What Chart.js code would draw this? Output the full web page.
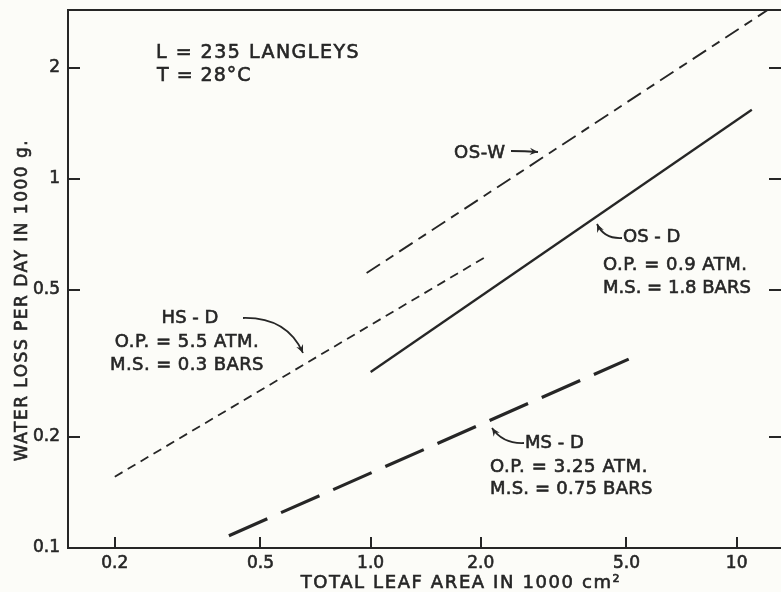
<!DOCTYPE html>
<html>
<head>
<meta charset="utf-8">
<script src="https://cdn.jsdelivr.net/npm/chart.js@4/dist/chart.umd.min.js"></script>
<style>
  html, body { margin: 0; padding: 0; overflow: hidden; background: #fcfcf8; }
  canvas { display: block; }
</style>
</head>
<body>
<canvas id="c" width="790" height="592"></canvas>
<script>
// Tick positions and labels on the two logarithmic axes
const xTicks = [0.2, 0.5, 1.0, 2.0, 5.0, 10];
const xTickLabels = ['0.2', '0.5', '1.0', '2.0', '5.0', '10'];
const yTicks = [0.1, 0.2, 0.5, 1, 2];
const yTickLabels = ['0.1', '0.2', '0.5', '1', '2'];

// Leaf area (1000 cm²) vs. water loss (1000 g per day), one line per treatment
const hsD = [{ x: 0.2, y: 0.156 }, { x: 2.06, y: 0.615 }];
const osW = [{ x: 0.975, y: 0.556 }, { x: 12.15, y: 2.87 }];
const osD = [{ x: 1.0, y: 0.300 }, { x: 11.0, y: 1.54 }];
const msD = [{ x: 0.41, y: 0.108 }, { x: 5.07, y: 0.325 }];

const INK = '#262626';
const FONT = '"DejaVu Sans", sans-serif';

// Annotation text blocks
const notes = [
  { text: 'L = 235 LANGLEYS', x: 156, y: 58, size: 19, spacing: 1.5, align: 'left' },
  { text: 'T = 28°C', x: 157, y: 81, size: 19, spacing: 1.0, align: 'left' },
  { text: 'OS-W', x: 454, y: 158, size: 18, spacing: 0.6, align: 'left' },
  { text: 'OS - D', x: 623, y: 242, size: 18, spacing: 0, align: 'left' },
  { text: 'O.P. = 0.9 ATM.', x: 603, y: 270, size: 18, spacing: 0.5, align: 'left' },
  { text: 'M.S. = 1.8 BARS', x: 603, y: 293, size: 18, spacing: 0, align: 'left' },
  { text: 'HS - D', x: 190, y: 323, size: 18, spacing: 0, align: 'center' },
  { text: 'O.P. = 5.5 ATM.', x: 187, y: 347, size: 18, spacing: 0.5, align: 'center' },
  { text: 'M.S. = 0.3 BARS', x: 187, y: 370, size: 18, spacing: 0.4, align: 'center' },
  { text: 'MS - D', x: 525, y: 448, size: 18, spacing: 0, align: 'left' },
  { text: 'O.P. = 3.25 ATM.', x: 490, y: 472, size: 18, spacing: 0.6, align: 'left' },
  { text: 'M.S. = 0.75 BARS', x: 490, y: 494, size: 18, spacing: 0.2, align: 'left' }
];

// Pointer arrows: start, control point, tip
const arrows = [
  { from: [511, 151], ctrl: [525, 151], to: [538, 152] },
  { from: [622, 238], ctrl: [604, 239], to: [597, 224] },
  { from: [243, 318], ctrl: [287, 317], to: [303, 353] },
  { from: [524, 443], ctrl: [503, 444], to: [492, 428] }
];

function heavyText(ctx, text, x, y) {
  ctx.fillText(text, x, y);
  ctx.strokeText(text, x, y);
}

const frame = {
  id: 'frame',
  beforeDraw(chart) {
    const ctx = chart.ctx;
    ctx.save();
    ctx.fillStyle = '#fcfcf8';
    ctx.fillRect(0, 0, chart.width, chart.height);
    ctx.restore();
  },
  afterDraw(chart) {
    const ctx = chart.ctx;
    const a = chart.chartArea;
    const xs = chart.scales.x, ys = chart.scales.y;
    ctx.save();
    ctx.strokeStyle = INK;
    ctx.fillStyle = INK;
    ctx.lineWidth = 2;

    // top and right edges of the frame
    ctx.beginPath();
    ctx.moveTo(a.left, a.top);
    ctx.lineTo(a.right, a.top);
    ctx.lineTo(a.right, a.bottom);
    ctx.stroke();

    // inward tick marks
    ctx.beginPath();
    xTicks.forEach(v => {
      const px = Math.round(xs.getPixelForValue(v));
      ctx.moveTo(px, a.bottom);
      ctx.lineTo(px, a.bottom - 11);
    });
    yTicks.slice(1).forEach(v => {
      const py = Math.round(ys.getPixelForValue(v));
      ctx.moveTo(a.left, py);
      ctx.lineTo(a.left + 12, py);
      ctx.moveTo(a.right, py);
      ctx.lineTo(a.right - 13, py);
    });
    ctx.stroke();

    // axis titles
    ctx.lineWidth = 0.6;
    ctx.textBaseline = 'alphabetic';
    ctx.textAlign = 'center';
    ctx.font = '18px ' + FONT;
    ctx.letterSpacing = '1.6px';
    heavyText(ctx, 'TOTAL LEAF AREA IN 1000 cm²', 461, 588);
    ctx.save();
    ctx.translate(27, 300);
    ctx.rotate(-Math.PI / 2);
    ctx.letterSpacing = '1.5px';
    ctx.font = '17px ' + FONT;
    heavyText(ctx, 'WATER LOSS PER DAY IN 1000 g.', 0, 0);
    ctx.restore();

    // notes
    notes.forEach(n => {
      ctx.font = n.size + 'px ' + FONT;
      ctx.letterSpacing = n.spacing + 'px';
      ctx.textAlign = n.align;
      heavyText(ctx, n.text, n.x, n.y);
    });
    ctx.letterSpacing = '0px';

    // arrows
    ctx.lineWidth = 1.8;
    arrows.forEach(ar => {
      ctx.beginPath();
      ctx.moveTo(ar.from[0], ar.from[1]);
      ctx.quadraticCurveTo(ar.ctrl[0], ar.ctrl[1], ar.to[0], ar.to[1]);
      ctx.stroke();
      const ang = Math.atan2(ar.to[1] - ar.ctrl[1], ar.to[0] - ar.ctrl[0]);
      const L = 9, W = 0.42;
      ctx.beginPath();
      ctx.moveTo(ar.to[0], ar.to[1]);
      ctx.lineTo(ar.to[0] - L * Math.cos(ang - W), ar.to[1] - L * Math.sin(ang - W));
      ctx.lineTo(ar.to[0] - L * 0.6 * Math.cos(ang), ar.to[1] - L * 0.6 * Math.sin(ang));
      ctx.lineTo(ar.to[0] - L * Math.cos(ang + W), ar.to[1] - L * Math.sin(ang + W));
      ctx.closePath();
      ctx.fill();
    });
    ctx.restore();
  }
};

function lineSet(data, width, dash) {
  return {
    data,
    showLine: true,
    borderColor: INK,
    borderWidth: width,
    borderDash: dash,
    pointRadius: 0,
    fill: false
  };
}

const tickFont = { family: FONT, size: 17 };

new Chart(document.getElementById('c'), {
  type: 'scatter',
  data: {
    datasets: [
      lineSet(hsD, 1.8, [9, 6]),
      lineSet(osW, 1.9, [16, 7, 9, 7]),
      lineSet(osD, 2.3, []),
      lineSet(msD, 3.2, [42, 15])
    ]
  },
  options: {
    responsive: false,
    animation: false,
    layout: { padding: { top: 10, right: 8, left: 0, bottom: 0 } },
    plugins: { legend: { display: false }, tooltip: { enabled: false } },
    scales: {
      x: {
        type: 'logarithmic',
        min: 0.149,
        max: 13.3,
        afterBuildTicks: s => { s.ticks = xTicks.map(v => ({ value: v })); },
        afterFit: s => { s.height = 44; s.paddingLeft = 0; s.paddingRight = 0; },
        ticks: {
          callback: (v, i) => xTickLabels[i],
          autoSkip: false, maxRotation: 0, padding: 5,
          color: INK, font: tickFont,
          textStrokeColor: INK, textStrokeWidth: 0.6
        },
        grid: { display: true, drawOnChartArea: false, drawTicks: false },
        border: { color: INK, width: 2 }
      },
      y: {
        type: 'logarithmic',
        min: 0.1,
        max: 2.87,
        afterBuildTicks: s => { s.ticks = yTicks.map(v => ({ value: v })); },
        afterFit: s => { s.width = 68; s.paddingTop = 0; s.paddingBottom = 0; },
        ticks: {
          callback: (v, i) => yTickLabels[i],
          autoSkip: false, padding: 8,
          color: INK, font: tickFont,
          textStrokeColor: INK, textStrokeWidth: 0.6
        },
        grid: { display: true, drawOnChartArea: false, drawTicks: false },
        border: { color: INK, width: 2 }
      }
    }
  },
  plugins: [frame]
});
</script>
</body>
</html>
